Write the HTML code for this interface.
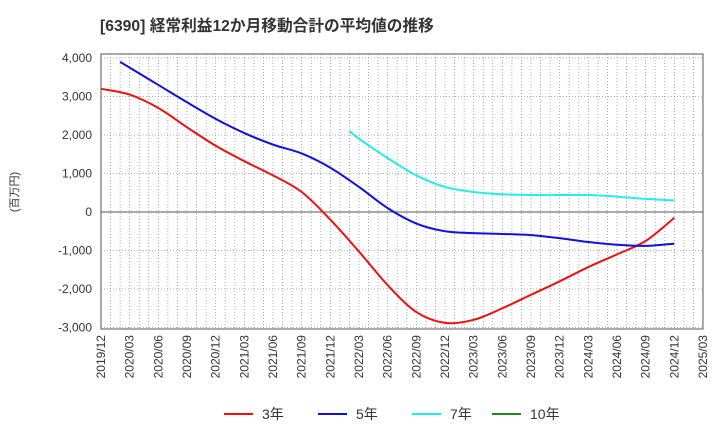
<!DOCTYPE html>
<html><head><meta charset="utf-8"><style>
body{margin:0;background:#fff;font-family:"Liberation Sans","Noto Sans CJK JP",sans-serif;}
svg text{font-family:"Liberation Sans","Noto Sans CJK JP",sans-serif;}
</style></head><body>
<svg id="c" width="720" height="440" xmlns="http://www.w3.org/2000/svg">
<text x="100" y="31" font-size="15.7" font-weight="bold" fill="#333">[6390]  経常利益12か月移動合計の平均値の推移</text>
<text transform="translate(18,192) rotate(-90)" font-size="11" fill="#333" text-anchor="middle">(百万円)</text>
<g id="grid"></g><g id="axes"></g><g id="series"></g><g id="legend"></g>
</svg>
<script>
const xLabels=["2019/12","2020/03","2020/06","2020/09","2020/12","2021/03","2021/06","2021/09","2021/12","2022/03","2022/06","2022/09","2022/12","2023/03","2023/06","2023/09","2023/12","2024/03","2024/06","2024/09","2024/12","2025/03"];
const yTicks=[4000,3000,2000,1000,0,-1000,-2000,-3000];
// month index from 2019/12
const m3=[0,3,6,9,12,15,18,21,24,27,30,33,36,39,42,45,48,51,54,57,60];
const v3=[3200,3050,2700,2200,1720,1320,950,520,-200,-1030,-1900,-2600,-2880,-2800,-2500,-2150,-1800,-1430,-1100,-750,-150];
const m5=[2,3,6,9,12,15,18,21,24,27,30,33,36,39,42,45,48,51,54,57,60];
const v5=[3900,3750,3300,2850,2420,2050,1750,1520,1150,650,100,-300,-500,-550,-570,-600,-680,-780,-850,-880,-820];
const m7=[26,27,30,33,36,39,42,45,48,51,54,57,60];
const v7=[2100,1900,1400,950,650,520,460,440,440,440,400,340,300];
const m10=[];const v10=[];
const NS="http://www.w3.org/2000/svg";
const L=101,R=703,T=54,B=329;
const xs=m=>L+m*(R-L)/63;
const ys=v=>212-v*(212-58)/4000;
function mk(tag,attrs,parent){const e=document.createElementNS(NS,tag);for(const k in attrs)e.setAttribute(k,attrs[k]);parent.appendChild(e);return e;}
const grid=document.getElementById('grid'),axes=document.getElementById('axes'),ser=document.getElementById('series'),leg=document.getElementById('legend');
for(let m=1;m<63;m++){const l=mk('line',{x1:xs(m),x2:xs(m),y1:T,y2:B,stroke:'#999','stroke-width':0.8,'stroke-dasharray':'1,2'},grid);

}
yTicks.forEach(v=>{const y=ys(v);
const l=mk('line',{x1:L,x2:R,y1:y,y2:y,stroke:v===0?'#555':'#999','stroke-width':v===0?1:0.8,'stroke-dasharray':v===0?'':'1,2'},grid);


const t=mk('text',{x:L-9,y:y+4,'font-size':12,fill:'#333','text-anchor':'end'},axes);t.textContent=v.toLocaleString('en-US');

});
const fr=mk('rect',{x:L,y:T,width:R-L,height:B-T,fill:'none',stroke:'#555','stroke-width':1},axes);


xLabels.forEach((s,i)=>{const x=xs(i*3);
const t=mk('text',{transform:`translate(${x+4},${B+6}) rotate(-90)`,'font-size':12,fill:'#333','text-anchor':'end'},axes);t.textContent=s;

});
function path(ms,vs){const p=ms.map((m,i)=>[xs(m),ys(vs[i])]);if(!p.length)return '';let d=`M${p[0][0]},${p[0][1]}`;
for(let i=0;i<p.length-1;i++){const p0=p[i-1]||p[i],p1=p[i],p2=p[i+1],p3=p[i+2]||p2;
d+=` C${p1[0]+(p2[0]-p0[0])/6},${p1[1]+(p2[1]-p0[1])/6} ${p2[0]-(p3[0]-p1[0])/6},${p2[1]-(p3[1]-p1[1])/6} ${p2[0]},${p2[1]}`;}return d;}
const S=[[m3,v3,'#ee1111','3年','series-3y'],[m5,v5,'#1111dd','5年','series-5y'],[m7,v7,'#22eeee','7年','series-7y'],[m10,v10,'#228822','10年','series-10y']];
S.forEach(s=>{if(!s[0].length)return;const p=mk('path',{d:path(s[0],s[1]),fill:'none',stroke:s[2],'stroke-width':2},ser);

});
const lx=[224,318,412,492];
S.forEach((s,i)=>{const g=mk('g',{},leg);


mk('line',{x1:lx[i],x2:lx[i]+29,y1:414,y2:414,stroke:s[2],'stroke-width':2},g);
const t=mk('text',{x:lx[i]+38,y:419,'font-size':14,fill:'#333'},g);t.textContent=s[3];});
</script>
</body></html>
